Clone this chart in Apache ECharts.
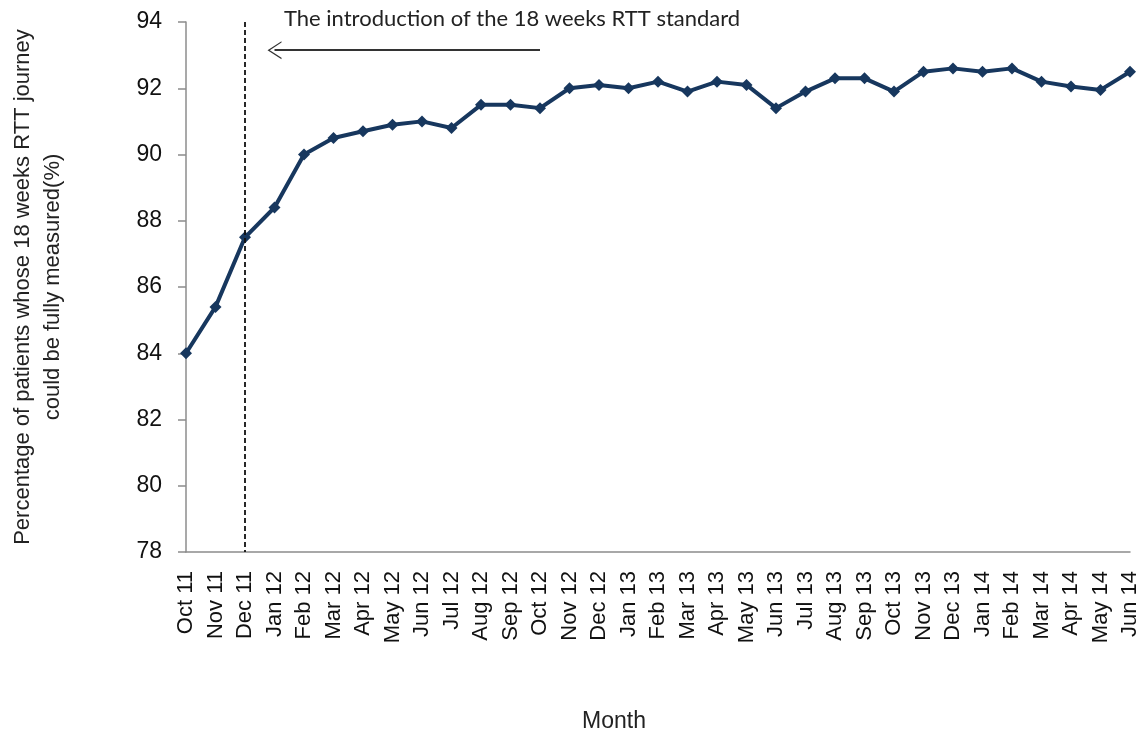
<!DOCTYPE html>
<html>
<head>
<meta charset="utf-8">
<script src="https://cdn.jsdelivr.net/npm/echarts@6/dist/echarts.min.js"></script>
<style>
  html, body { margin: 0; padding: 0; background: #fff; }
  #main { width: 1144px; height: 738px; }
</style>
</head>
<body>
<div id="main"></div>
<script>
var months = [
    'Oct 11', 'Nov 11', 'Dec 11', 'Jan 12', 'Feb 12', 'Mar 12', 'Apr 12', 'May 12',
    'Jun 12', 'Jul 12', 'Aug 12', 'Sep 12', 'Oct 12', 'Nov 12', 'Dec 12', 'Jan 13',
    'Feb 13', 'Mar 13', 'Apr 13', 'May 13', 'Jun 13', 'Jul 13', 'Aug 13', 'Sep 13',
    'Oct 13', 'Nov 13', 'Dec 13', 'Jan 14', 'Feb 14', 'Mar 14', 'Apr 14', 'May 14',
    'Jun 14'
];

var measured = [
    84.0, 85.4, 87.5, 88.4, 90.0, 90.5, 90.7, 90.9,
    91.0, 90.8, 91.5, 91.5, 91.4, 92.0, 92.1, 92.0,
    92.2, 91.9, 92.2, 92.1, 91.4, 91.9, 92.3, 92.3,
    91.9, 92.5, 92.6, 92.5, 92.6, 92.2, 92.05, 91.95,
    92.5
];

// dashed marker sits just after Dec 11
var introPos = 2.13;
var arrowFrom = ['Oct 12', 93.15];
var arrowTo = ['Jan 12', 93.15];
var noteText = 'The introduction of the 18 weeks RTT standard';

var chart = echarts.init(document.getElementById('main'));

var option = {
    animation: false,
    grid: {
        left: 183,
        right: 14,
        top: 22,
        bottom: 186
    },
    xAxis: {
        type: 'category',
        data: months,
        boundaryGap: false,
        name: 'Month',
        nameLocation: 'middle',
        nameGap: 158,
        nameTextStyle: {
            fontFamily: 'Liberation Sans',
            fontSize: 23,
            color: '#222',
            padding: [0, 88, 0, 0]
        },
        axisLine: { lineStyle: { color: '#8c8c8c', width: 1.5 } },
        axisTick: { show: false },
        axisLabel: {
            rotate: 90,
            interval: 0,
            margin: 19,
            fontFamily: 'Liberation Sans',
            fontSize: 22,
            color: '#111'
        }
    },
    yAxis: {
        type: 'value',
        min: 78,
        max: 94,
        interval: 2,
        name: 'Percentage of patients whose 18 weeks RTT journey\ncould be fully measured(%)',
        nameLocation: 'middle',
        nameGap: 118,
        nameTextStyle: {
            fontFamily: 'Liberation Sans',
            fontSize: 22,
            color: '#222',
            lineHeight: 30
        },
        axisLine: { show: true, lineStyle: { color: '#8c8c8c', width: 1.5 } },
        axisTick: { show: true, length: 8, lineStyle: { color: '#8c8c8c', width: 1.5 } },
        splitLine: { show: false },
        axisLabel: {
            margin: 24,
            fontFamily: 'Liberation Sans',
            fontSize: 23,
            color: '#111'
        }
    },
    series: [{
        type: 'line',
        data: measured,
        symbol: 'diamond',
        symbolSize: 12,
        lineStyle: { color: '#17375e', width: 4 },
        itemStyle: { color: '#17375e' },
        markLine: {
            silent: true,
            animation: false,
            data: [
                [{
                    xAxis: introPos, yAxis: 94,
                    symbol: 'none',
                    lineStyle: { color: '#111', type: [5, 3], width: 1.8 }
                }, {
                    xAxis: introPos, yAxis: 78,
                    symbol: 'none'
                }],
                [{
                    coord: arrowFrom,
                    symbol: 'none',
                    lineStyle: { color: '#333', type: 'solid', width: 2 }
                }, {
                    coord: arrowTo,
                    symbol: 'path://M10,0L20,18L18.5,18L10,3L1.5,18L0,18Z',
                    symbolSize: [18, 14]
                }]
            ],
            label: { show: false }
        }
    }],
    graphic: [{
        type: 'text',
        left: 284,
        top: 8,
        style: {
            text: noteText,
            fontFamily: 'Lato',
            fontSize: 22,
            fill: '#222'
        }
    }]
};

chart.setOption(option);

window.onresize = chart.resize;
</script>
</body>
</html>
